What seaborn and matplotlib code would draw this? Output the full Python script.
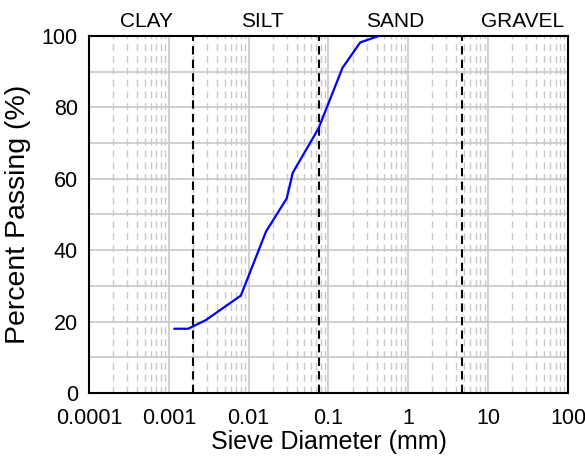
import numpy as np
import pandas as pd
import matplotlib
matplotlib.use("Agg")
import matplotlib.pyplot as plt
import seaborn as sns
from matplotlib.ticker import LogLocator, FixedLocator, NullFormatter

# grain size distribution
diameter = [0.00117, 0.00175, 0.0029, 0.008, 0.0165, 0.030, 0.0357, 0.075, 0.15, 0.25, 0.425]
passing = [18.0, 18.0, 20.4, 27.3, 45.2, 54.5, 61.7, 74.1, 91.1, 98.2, 100.0]

# soil class boundaries (mm) and class names
boundaries = [0.002, 0.075, 4.75]
classes = ["CLAY", "SILT", "SAND", "GRAVEL"]
class_label_x = [0.00053, 0.0147, 0.68, 26.7]

xticks = [0.0001, 0.001, 0.01, 0.1, 1, 10, 100]
xtick_labels = ["0.0001", "0.001", "0.01", "0.1", "1", "10", "100"]

df = pd.DataFrame({"Diameter": diameter, "Passing": passing})

sns.set_style("white")
plt.rcParams["font.family"] = ["Liberation Sans", "DejaVu Sans"]
plt.rcParams["text.color"] = "black"
plt.rcParams["axes.labelcolor"] = "black"
plt.rcParams["xtick.color"] = "black"
plt.rcParams["ytick.color"] = "black"

fig = plt.figure(figsize=(5.85, 4.59), dpi=100)
ax = fig.add_axes([0.152, 0.1438, 0.819, 0.7778])

ax.set_xscale("log")
ax.set_xlim(1e-4, 100)
ax.set_ylim(0, 100)

# grid
ax.xaxis.set_major_locator(FixedLocator(xticks))
ax.xaxis.set_minor_locator(LogLocator(base=10, subs=np.arange(2, 10), numticks=20))
ax.xaxis.set_minor_formatter(NullFormatter())
ax.set_yticks(np.arange(0, 101, 20))
ax.set_yticks(np.arange(10, 100, 20), minor=True)
ax.grid(True, which="major", axis="x", color="#c8c8c8", lw=1.2, ls="-")
ax.grid(True, which="minor", axis="x", color="#c8c8c8", lw=1.0, ls=(0, (5, 3.5)))
ax.grid(True, which="both", axis="y", color="#c8c8c8", lw=1.2, ls="-")
ax.set_axisbelow(True)

for b in boundaries:
    ax.axvline(b, color="black", lw=1.5, ls=(0, (4, 2.5)), zorder=3)

sns.lineplot(data=df, x="Diameter", y="Passing", color="#0000ff", lw=1.6, ax=ax, zorder=4)

ax.set_xticklabels(xtick_labels)
ax.set_xlabel("Sieve Diameter (mm)", fontsize=18, labelpad=1)
ax.set_ylabel("Percent Passing (%)", fontsize=20.5, labelpad=8)
ax.tick_params(axis="both", which="major", direction="in", length=6, width=1.2,
               labelsize=15.5, top=False, right=False)
ax.tick_params(axis="x", which="major", pad=10.5)
ax.tick_params(axis="y", which="major", pad=8)
ax.tick_params(axis="both", which="minor", direction="in", length=4, width=1.0,
               top=False, right=False)

for sp in ax.spines.values():
    sp.set_color("black")
    sp.set_linewidth(1.5)

for name, xpos in zip(classes, class_label_x):
    ax.text(xpos, 101.5, name, ha="center", va="bottom", fontsize=15,
            transform=ax.transData, clip_on=False)

fig.savefig("out.png", dpi=100)
